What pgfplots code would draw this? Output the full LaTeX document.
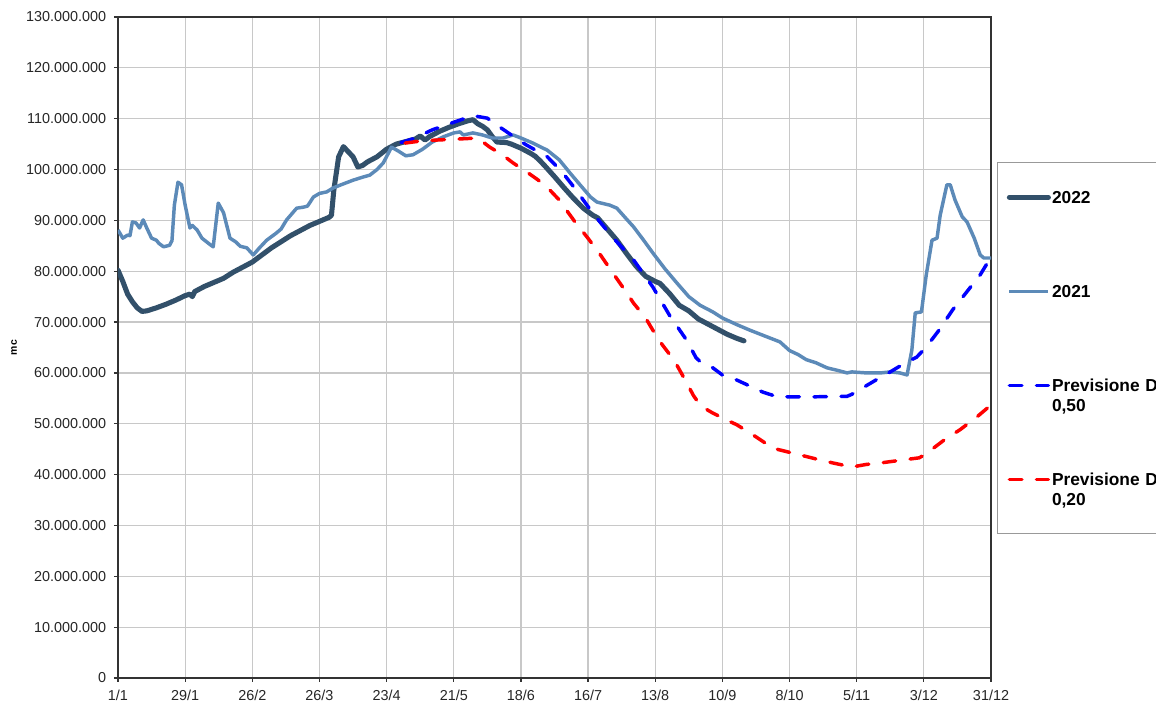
\documentclass[border=0pt]{standalone}
\usepackage{fontspec}
\setmainfont{Liberation Sans}
\usepackage{pgfplots}
\pgfplotsset{compat=1.18}
\definecolor{c22}{RGB}{50,80,106}
\definecolor{c21}{RGB}{92,138,184}
\definecolor{gridc}{RGB}{200,200,200}
\begin{document}
\begin{tikzpicture}
\begin{axis}[
 at={(88.5pt,18pt)}, anchor=south west,
 scale only axis, width=654.75pt, height=495.75pt,
 xmin=0, xmax=364, ymin=0, ymax=130,
 xtick={0,28,...,364},
 xticklabels={1/1,29/1,26/2,26/3,23/4,21/5,18/6,16/7,13/8,10/9,8/10,5/11,3/12,31/12},
 ytick={0,10,...,130},
 yticklabels={0,10.000.000,20.000.000,30.000.000,40.000.000,50.000.000,60.000.000,70.000.000,80.000.000,90.000.000,100.000.000,110.000.000,120.000.000,130.000.000},
 grid=major, major grid style={gridc, line width=0.9pt},
 axis line style={black!80, line width=1.1pt},
 tick align=outside, xtick pos=bottom, ytick pos=left,
 major tick length=3pt, tick style={black!80, line width=0.9pt},
 ticklabel style={font=\fontsize{10.8}{13}\selectfont, text=black!85},
 yticklabel style={xshift=-2.4pt},
 xticklabel style={yshift=-2.5pt},
 ylabel={mc},
 ylabel style={at={(axis description cs:-0.1191,0.5)}, anchor=center, font=\bfseries\fontsize{7.8}{9}\selectfont},
 legend image code/.code={\draw[#1] (0pt,4.65pt) -- (29.25pt,4.65pt);},
 legend style={at={(1.00687,0.7806)}, anchor=north west, draw=gray!80, line width=0.8pt,
   inner xsep=7pt, inner ysep=21.35pt,
   row sep=46.45pt, column sep=0.8pt,
   nodes={anchor=base west, inner sep=0pt, text width=150pt,
          text height=9.4pt, text depth=14.65pt,
          font=\bfseries\fontsize{13}{15}\selectfont}},
]
\addplot[c22, line width=3.8pt, line join=round, line cap=round] coordinates {
(0,80.2)(2,78)(4,75.5)(6,74)(8,72.8)(10,72.1)(12,72.2)(16,72.8)(20,73.5)(24,74.3)(28,75.2)(30,75.5)(31,75.0)(32,76)(36,77)(40,77.8)(44,78.6)(48,79.8)(52,80.8)(56,81.8)(60,83.2)(64,84.6)(68,85.8)(72,87)(76,88)(80,89)(84,89.8)(88,90.6)(89,91)(90,96)(92,102.5)(94,104.5)(96,103.5)(98,102.5)(100,100.5)(102,100.8)(104,101.5)(108,102.5)(112,104)(116,105)(120,105.5)(124,106)(126,106.6)(128,105.8)(130,106.5)(134,107.5)(138,108.3)(142,109)(146,109.6)(148,109.8)(150,109)(152,108.5)(154,107.8)(156,106.5)(158,105.4)(162,105.3)(164,105)(168,104.2)(172,103.2)(174,102.6)(176,101.7)(178,100.7)(182,98.6)(186,96.4)(190,94.3)(194,92.4)(198,91)(200,90.5)(204,88.3)(208,86.1)(212,83.5)(216,81)(220,79)(224,78)(226,77.6)(230,75.6)(234,73.3)(238,72.2)(242,70.6)(246,69.6)(250,68.6)(254,67.6)(258,66.8)(261,66.3)
};
\addlegendentry{2022}
\addplot[c21, line width=2.6pt, line join=round] coordinates {
(0,88.1)(2,86.5)(4,87.1)(5,87)(6,89.7)(7.5,89.5)(9,88.5)(10.5,90.1)(12,88.5)(14,86.5)(16,86.1)(17,85.5)(19,84.8)(21.5,85.1)(22.5,86)(23.5,93)(25,97.5)(26.5,97)(28,93)(30,88.5)(31,89)(33,88.1)(35,86.5)(38.5,85.2)(39.7,84.8)(41.8,93.4)(44,91.5)(46.7,86.5)(49,85.8)(51,84.9)(53.7,84.6)(56.4,83.2)(59,84.6)(62,86.1)(66,87.5)(68,88.3)(70.3,90.1)(74.5,92.4)(77.3,92.6)(79,92.8)(81.5,94.6)(84,95.3)(87,95.6)(89.8,96.4)(93,97)(98,97.9)(102,98.5)(105,98.9)(108,100)(110.6,101.3)(112.5,103)(114,104.4)(117,103.6)(120,102.7)(123,102.9)(127,104)(131,105.4)(136,106.5)(140,107.2)(142.6,107.4)(144,106.8)(148,107.2)(152,106.8)(156,106.2)(160.6,106.2)(164.7,106.8)(168,106.2)(173,105.2)(179,103.8)(184,101.9)(188.5,99.3)(193,96.8)(197,94.6)(199.7,93.6)(205,93)(208,92.4)(211,90.8)(215,88.7)(219,86.2)(223,83.6)(228,80.5)(233,77.7)(238,75)(242.7,73.3)(248,72)(252,70.8)(258,69.5)(263.5,68.4)(270,67.2)(276,66.1)(280,64.4)(283.6,63.6)(287,62.6)(291,62)(295.6,61)(300,60.5)(304,60)(306,60.2)(312,60)(318,60)(322,60.2)(326,60)(329,59.6)(331,64.5)(332.4,71.8)(335,72)(337,79.3)(339.4,86.1)(341.5,86.5)(342.8,91)(345.6,97)(347,97)(349,94)(352,90.7)(354,89.7)(357,86.5)(359.5,83.2)(361,82.6)(364,82.6)
};
\addlegendentry{2021}
\addplot[blue, line width=2.6pt, line cap=round, dash pattern=on 9.4pt off 10.9pt] coordinates {
(118,105.3)(124,106.2)(131,107.8)(140,109.3)(148,110.6)(154,110.1)(159,108.4)(164,106.8)(170,104.9)(179,102.5)(185,99.6)(190,96.6)(198,91.4)(206,86.8)(215,82.2)(223,76.9)(230,71.3)(237,66.5)(241,63)(243,62.1)(248,61)(252,59.6)(258,58.6)(264,57.3)(269,56.2)(275,55.3)(290,55.3)(304,55.4)(306,55.8)(311,57.2)(316,58.6)(322,60.2)(328,61.9)(333,63.1)(337,65.1)(342,68.2)(348,72.4)(354,76)(359.5,79.3)(364,82.8)
};
\addlegendentry{\vtop{\hbox{Previsione D}\hbox{0,50}}}
\addplot[red, line width=2.6pt, line cap=round, dash pattern=on 9.4pt off 10.9pt] coordinates {
(119.7,105.2)(126,105.6)(133,105.8)(142,106)(150,106.2)(155,104.4)(160,103)(164.7,101.3)(170.5,99.5)(175,98)(180,96)(184,94)(187,92)(191,89.4)(195.6,86.7)(200,84)(206.4,79.6)(211,76.5)(215,73.7)(220,70.8)(223,68.4)(227,65.5)(232,62.4)(236,59)(240,55.5)(243,53.5)(248,52.1)(254,50.7)(258,49.8)(263.5,48.2)(268,46.8)(273,45.2)(281.5,44.2)(290,43.2)(298,42.3)(306,41.5)(312,42)(318,42.3)(326,42.8)(334,43.3)(338,44.3)(340,45.2)(345,47)(351,48.8)(358,51.3)(364,53.7)
};
\addlegendentry{\vtop{\hbox{Previsione D}\hbox{0,20}}}
\end{axis}
\pgfresetboundingbox
\useasboundingbox (0,0) rectangle (867pt,526.5pt);
\end{tikzpicture}
\end{document}
